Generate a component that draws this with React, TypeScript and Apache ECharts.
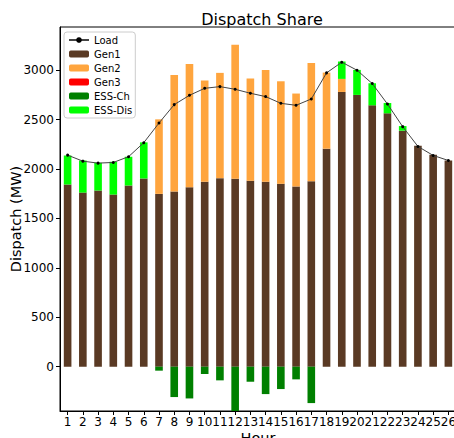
import React, { useEffect, useRef } from "react";
import * as echarts from "echarts";

const hours = Array.from({ length: 26 }, (_, i) => String(i + 1));
const yTicks = [0, 500, 1000, 1500, 2000, 2500, 3000];
const gen1 = [1843, 1761, 1782, 1741, 1833, 1904, 1748, 1772, 1815, 1870, 1907, 1900, 1880, 1870, 1850, 1823, 1876, 2205, 2779, 2749, 2644, 2563, 2387, 2235, 2144, 2086];
const gen2 = [0, 0, 0, 0, 0, 0, 754, 1179, 1248, 1024, 1065, 1356, 1035, 1132, 1037, 940, 1197, 770, 132, 0, 0, 0, 0, 0, 0, 0];
const gen3 = [0, 0, 0, 0, 0, 0, 0, 0, 0, 0, 0, 0, 0, 0, 0, 0, 0, 0, 0, 0, 0, 0, 0, 0, 0, 0];
const essCh = [0, 0, 0, 0, 0, 0, -40, -307, -321, -74, -138, -450, -152, -277, -226, -128, -368, 0, 0, 0, 0, 0, 0, 0, 0, 0];
const essDis = [294, 325, 281, 332, 291, 365, 0, 0, 0, 0, 0, 0, 0, 0, 0, 0, 0, 0, 176, 253, 223, 104, 47, 0, 0, 0];
const load = [2140, 2079, 2059, 2066, 2124, 2266, 2465, 2651, 2745, 2816, 2833, 2806, 2766, 2732, 2664, 2644, 2708, 2972, 3080, 2999, 2864, 2657, 2428, 2228, 2137, 2086];

const FONT = "DejaVu Sans";

export default function App() {
  const ref = useRef<HTMLDivElement>(null);
  useEffect(() => {
    if (!ref.current) return;
    const chart = echarts.init(ref.current, null, { renderer: "svg" });
    const bar = (name: string, data: number[], color: string) => ({
      name,
      type: "bar",
      stack: "total",
      data,
      barWidth: "50%",
      itemStyle: { color },
      z: 2,
    });
    chart.setOption({
      animation: false,
      textStyle: { fontFamily: FONT },
      title: {
        text: "Dispatch Share",
        left: 257,
        textAlign: "center",
        top: 6,
        textStyle: { fontFamily: FONT, fontSize: 16, fontWeight: "normal", color: "#000" },
      },
      legend: {
        orient: "vertical",
        left: 64,
        top: 32,
        padding: [2, 3, 2, 4],
        itemGap: 2,
        itemWidth: 20,
        itemHeight: 7,
        borderColor: "#cccccc",
        borderWidth: 1,
        borderRadius: 3,
        backgroundColor: "rgba(255,255,255,0.8)",
        textStyle: { fontFamily: FONT, fontSize: 10, color: "#000", lineHeight: 12 },
        data: ["Load", "Gen1", "Gen2", "Gen3", "ESS-Ch", "ESS-Dis"],
      },
      grid: {
        left: 60,
        top: 27,
        width: 396,
        bottom: 27,
        outerBoundsMode: "none",
        containLabel: false,
        show: true,
        borderColor: "#000",
        borderWidth: 1,
        backgroundColor: "transparent",
      },
      xAxis: {
        type: "category",
        data: hours,
        boundaryGap: true,
        name: "Hour",
        nameLocation: "middle",
        nameGap: 19,
        nameMoveOverlap: false,
        nameTextStyle: { fontFamily: FONT, fontSize: 14.5, color: "#000" },
        axisLine: { show: true, onZero: false, lineStyle: { color: "#000", width: 1 } },
        axisTick: { show: true, alignWithLabel: true, length: 4, lineStyle: { color: "#000" } },
        axisLabel: { fontFamily: FONT, fontSize: 12, color: "#000", margin: 5, interval: 0 },
        splitLine: { show: false },
      },
      yAxis: {
        type: "value",
        min: -448,
        max: 3436,
        name: "Dispatch (MW)",
        nameLocation: "middle",
        nameGap: 37,
        nameMoveOverlap: false,
        nameTextStyle: { fontFamily: FONT, fontSize: 14.5, color: "#000" },
        axisLine: { show: true, lineStyle: { color: "#000", width: 1 } },
        axisTick: { show: true, length: 4, lineStyle: { color: "#000" }, customValues: yTicks },
        axisLabel: {
          fontFamily: FONT,
          fontSize: 12,
          color: "#000",
          margin: 6,
          customValues: yTicks,
          formatter: (v: number) => String(v),
        },
        splitLine: { show: false },
      },
      series: [
        {
          name: "Load",
          type: "line",
          data: load,
          symbol: "circle",
          symbolSize: 3,
          lineStyle: { color: "#444", width: 1 },
          itemStyle: { color: "#000" },
          z: 5,
        },
        bar("Gen1", gen1, "#5a3a24"),
        bar("Gen2", gen2, "#ffa53e"),
        bar("Gen3", gen3, "#ff0000"),
        bar("ESS-Ch", essCh, "#008000"),
        bar("ESS-Dis", essDis, "#00ff00"),
      ],
    });
    return () => chart.dispose();
  }, []);
  return (
    <div
      ref={ref}
      style={{ position: "fixed", left: 0, top: 0, width: 454, height: 438, background: "#fff" }}
    />
  );
}
